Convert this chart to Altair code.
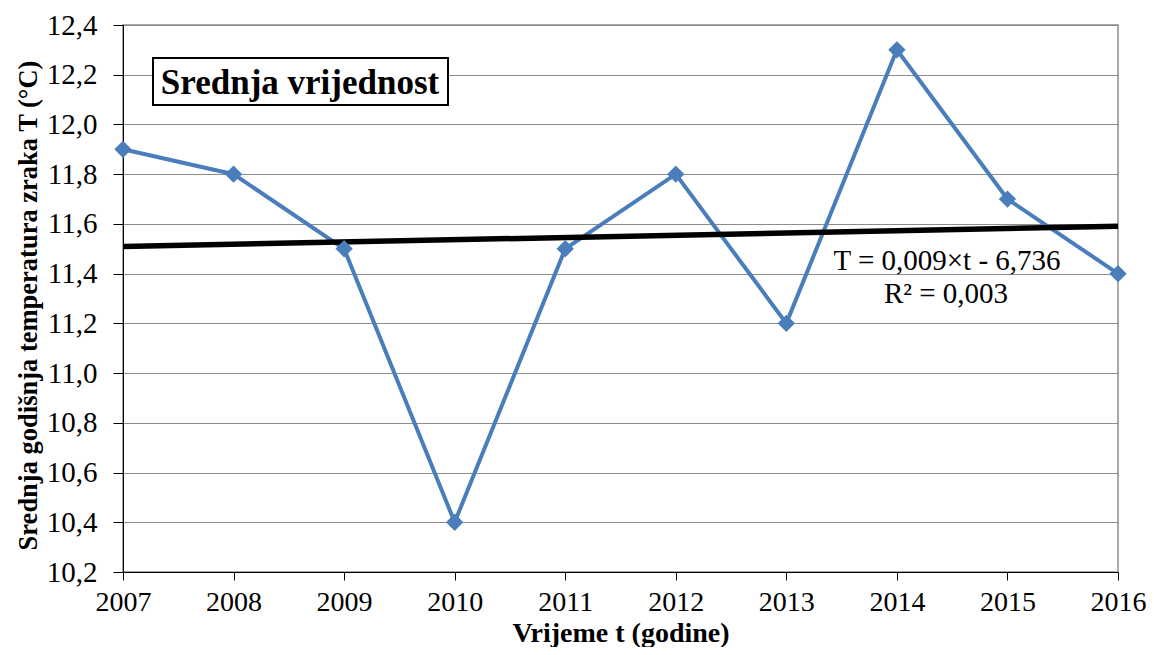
import altair as alt
import pandas as pd

years = [2007, 2008, 2009, 2010, 2011, 2012, 2013, 2014, 2015, 2016]
temps = [11.9, 11.8, 11.5, 10.4, 11.5, 11.8, 11.2, 12.3, 11.7, 11.4]
y_ticks = [10.2, 10.4, 10.6, 10.8, 11.0, 11.2, 11.4, 11.6, 11.8, 12.0, 12.2, 12.4]
box_label = "Srednja vrijednost"
eq_lines = ["T = 0,009×t  - 6,736", "R² = 0,003"]

df = pd.DataFrame({"year": years, "temp": temps})

FONT = "Liberation Serif"
BLUE = "#4A7EBB"

x_enc = alt.X("year:Q",
              scale=alt.Scale(domain=[2007, 2016], nice=False, zero=False),
              axis=alt.Axis(values=years, format="d", title="Vrijeme t (godine)",
                            grid=False, tickSize=8, tickColor="black",
                            domainColor="black", labelFontSize=28, labelFont=FONT,
                            labelColor="black", labelPadding=8, labelFlush=False,
                            labelOverlap=False,
                            titleFont=FONT, titleFontSize=28, titleFontWeight="bold",
                            titleColor="black", titlePadding=3))
y_enc = alt.Y("temp:Q",
              scale=alt.Scale(domain=[10.2, 12.4], nice=False, zero=False),
              axis=alt.Axis(values=y_ticks,
                            labelExpr="replace(format(datum.value, '.1f'), '.', ',')",
                            title="Srednja godišnja temperatura zraka T (°C)",
                            grid=True, gridColor="#8c8c8c", gridWidth=1,
                            tickSize=10, tickColor="black", domainColor="black",
                            labelFontSize=29, labelFont=FONT, labelColor="black",
                            labelPadding=16, labelOverlap=False, labelFlush=False,
                            titleFont=FONT, titleFontSize=26.5, titleFontWeight="bold",
                            titleColor="black", titlePadding=4, titleY=280))

base = alt.Chart(df)

series = base.mark_line(color=BLUE, strokeWidth=4).encode(x=x_enc, y=y_enc)
points = base.mark_point(shape="diamond", filled=True, color=BLUE, size=300, opacity=1).encode(
    x="year:Q", y="temp:Q")
trend = base.transform_regression("year", "temp").mark_line(
    color="black", strokeWidth=5.5).encode(x="year:Q", y="temp:Q")

box = alt.Chart(pd.DataFrame({"t": [box_label]})).mark_rect(
    fill="white", stroke="black", strokeWidth=2).encode(
    x=alt.value(30), x2=alt.value(325), y=alt.value(33), y2=alt.value(80))
box_text = alt.Chart(pd.DataFrame({"t": [box_label]})).mark_text(
    font=FONT, fontSize=35, fontWeight="bold", color="black",
    align="center", baseline="middle").encode(
    text="t:N", x=alt.value(177), y=alt.value(58))

eq_text = alt.Chart(pd.DataFrame({"t": [eq_lines[0]]})).mark_text(
    font=FONT, fontSize=29, color="black", align="center", baseline="middle").encode(
    text="t:N", x=alt.value(824), y=alt.value(236))
r2_text = alt.Chart(pd.DataFrame({"t": [eq_lines[1]]})).mark_text(
    font=FONT, fontSize=29, color="black", align="center", baseline="middle").encode(
    text="t:N", x=alt.value(823), y=alt.value(269))

chart = alt.layer(series, trend, points, box, box_text, eq_text, r2_text).properties(
    width=995, height=547,
    autosize=alt.AutoSizeParams(type="none"),
    padding={"left": 115, "top": 17, "right": 28, "bottom": 75},
    background="white",
).configure_view(stroke="#8c8c8c", strokeWidth=1.5)

chart.save("out.html", embed_options={"renderer": "svg", "actions": False})
